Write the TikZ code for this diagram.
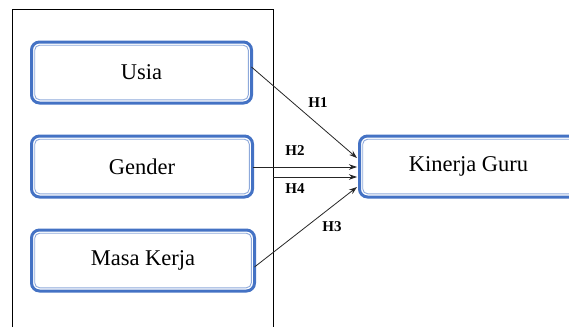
\documentclass[tikz,border=0pt]{standalone}
\usepackage{fontspec}
\setmainfont{Liberation Serif}
\usetikzlibrary{arrows.meta}
\definecolor{boxblue}{HTML}{4472C4}
\definecolor{innerblue}{HTML}{8EA9DB}
\begin{document}
\begin{tikzpicture}[x=1pt,y=-1pt,
  var/.style={draw=boxblue, line width=3pt, rounded corners=8pt, minimum height=61pt,
    inner sep=0pt, outer sep=0pt, font=\fontsize{22.5}{26}\selectfont, fill=white},
  innerline/.style={draw=innerblue, line width=0.9pt, rounded corners=5pt},
  conn/.style={draw=black!85, line width=0.8pt, -{Stealth[length=8pt,width=5.5pt]}},
  hlabel/.style={font=\bfseries\fontsize{15}{17}\selectfont, inner sep=0pt}]
\useasboundingbox (0,0) rectangle (569,327);
% frame
\draw[line width=0.9pt] (12,327) -- (12,9) -- (273,9) -- (273,327);
% boxes
\node[var, minimum width=220pt] (usia) at (141.5,72.5) {Usia};
\node[var, minimum width=221pt] (gender) at (142,166.5) {Gender};
\node[var, minimum width=223pt] (masa) at (143,260.5) {Masa Kerja};
\node[var, minimum width=218pt] (kin) at (468.5,166.5) {Kinerja Guru};
\foreach \n in {usia,gender,masa,kin}{
  \draw[innerline] ([shift={(3.2,3.2)}]\n.north west) rectangle ([shift={(-3.2,-3.2)}]\n.south east);
}
\coordinate (h4start) at (273,177);
% connectors
\draw[conn] ([shift={(0,-5.5)}]usia.east) -- ([shift={(-2.5,-8.5)}]kin.west);
\draw[conn] ([shift={(0,0.5)}]gender.east) -- ([shift={(-2.5,0.5)}]kin.west);
\draw[conn] (h4start) -- ([shift={(-2.5,10.5)}]kin.west);
\draw[conn] ([shift={(0,6.5)}]masa.east) -- ([shift={(-2.5,20.5)}]kin.west);
% labels
\node[hlabel] (l1) at (318,103) {H1};
\node[hlabel] (l2) at (295,151) {H2};
\node[hlabel] (l4) at (295,189) {H4};
\node[hlabel] (l3) at (332,227) {H3};
\end{tikzpicture}
\end{document}
